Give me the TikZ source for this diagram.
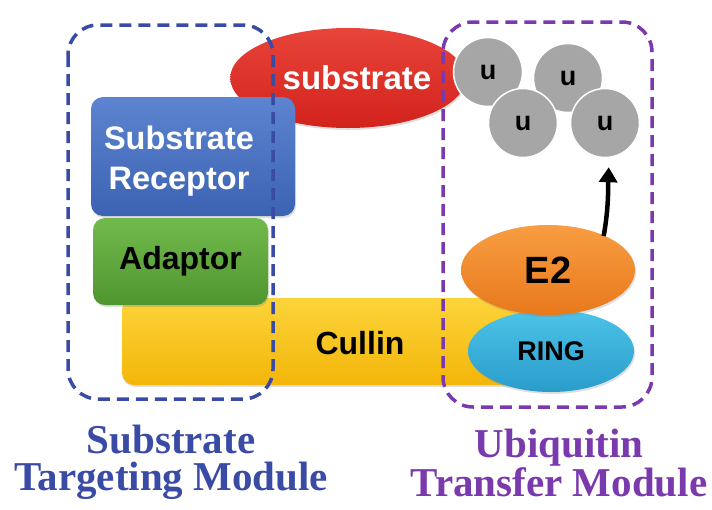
\documentclass[tikz,border=0pt]{standalone}
\usepackage{fontspec}
\setmainfont{Liberation Serif}
\newfontfamily\sansf{Liberation Sans}
\usetikzlibrary{shapes.geometric,arrows.meta,shadows}
\definecolor{tgtblue}{HTML}{3A4BA6}
\definecolor{trfpurple}{HTML}{7A3AAE}
\definecolor{grayball}{HTML}{A6A6A6}
\definecolor{subtop}{HTML}{E8443A}
\definecolor{subbot}{HTML}{D2221C}
\definecolor{cultop}{HTML}{FCD43A}
\definecolor{culbot}{HTML}{F3B60A}
\definecolor{adptop}{HTML}{72BA4C}
\definecolor{adpbot}{HTML}{4F9630}
\definecolor{rectop}{HTML}{5C84D0}
\definecolor{recbot}{HTML}{3B63B2}
\definecolor{ringtop}{HTML}{4CC3E8}
\definecolor{ringbot}{HTML}{2A9CCB}
\definecolor{etwotop}{HTML}{F89D42}
\definecolor{etwobot}{HTML}{E8791C}
\tikzset{
  part/.style={draw=none, rounded corners=12pt, inner sep=0pt,
    align=center,
    drop shadow={shadow xshift=1pt, shadow yshift=-2pt, opacity=0.25}},
  blob/.style={ellipse, draw=none, inner sep=0pt,
    drop shadow={shadow xshift=1pt, shadow yshift=-2pt, opacity=0.25}},
  ubq/.style={circle, fill=grayball, draw=white, line width=1.5pt,
    minimum size=69pt, inner sep=0pt, font=\sansf\bfseries\fontsize{27}{27}\selectfont},
  modbox/.style={line width=3.5pt, rounded corners=30pt,
    dash pattern=on 12pt off 7pt},
  modlabel/.style={font=\bfseries\fontsize{41}{37}\selectfont, align=center}
}
\begin{document}
\begin{tikzpicture}[x=1pt,y=-1pt]
\useasboundingbox (0,0) rectangle (712,509);

% substrate
\node[blob, top color=subtop, bottom color=subbot,
  minimum width=230pt, minimum height=100pt, text=white,
  font=\sansf\bfseries\fontsize{33}{33}\selectfont] (sub) at (348,78) {\hspace*{18pt}substrate};

% Cullin scaffold
\node[part, top color=cultop, bottom color=culbot,
  minimum width=438pt, minimum height=87pt] (cul) at (341,341.5) {};
\node[font=\sansf\bfseries\fontsize{32}{32}\selectfont] (cultext) at (360,343) {Cullin};

% Adaptor
\node[part, top color=adptop, bottom color=adpbot,
  minimum width=175pt, minimum height=87pt,
  font=\sansf\bfseries\fontsize{32}{32}\selectfont] (adp) at (180.5,261.5) {Adaptor};

% Substrate receptor
\node[part, top color=rectop, bottom color=recbot,
  minimum width=204pt, minimum height=119pt] (rec) at (193,156.5) {};
\node[text=white, align=center, inner sep=0pt,
  font=\sansf\bfseries\fontsize{32.5}{40}\selectfont] (rectext) at (179,161) {Substrate\\Receptor};

% RING and E2
\node[blob, top color=ringtop, bottom color=ringbot,
  minimum width=166pt, minimum height=82pt,
  font=\sansf\bfseries\fontsize{27}{27}\selectfont] (ring) at (551,351) {RING};
\node[blob, top color=etwotop, bottom color=etwobot,
  minimum width=174pt, minimum height=90pt,
  font=\sansf\bfseries\fontsize{38}{38}\selectfont] (e2) at (548,270) {E2};

% ubiquitin chain
\node[ubq] (u1) at (488,72) {u};
\node[ubq] (u2) at (568,78) {u};
\node[ubq] (u4) at (605,123) {u};
\node[ubq] (u3) at (523,123) {u};

% transfer arrow
\coordinate (e2top) at ([xshift=-6pt,yshift=2pt]e2.north east);
\draw[line width=4.5pt, -{Triangle[length=15pt,width=18pt]}, shorten >=9pt]
  (e2top) to[out=80,in=-92] ([xshift=4pt]u4.south);

% module outlines
\draw[modbox, draw=tgtblue] (68,25) rectangle (273,399);
\draw[modbox, draw=trfpurple] (443,22) rectangle (652,407);

% module labels
\node[modlabel, text=tgtblue] (tgt) at (171,462) {Substrate\\Targeting Module};
\node[modlabel, text=trfpurple] (trf) at (559,463) {Ubiquitin\\Transfer Module};
\end{tikzpicture}
\end{document}
